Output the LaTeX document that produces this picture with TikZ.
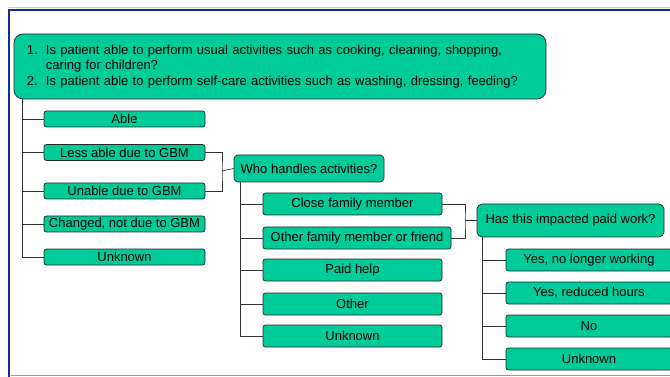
\documentclass[tikz,border=0pt]{standalone}
\usepackage{fontspec}
\setmainfont{Liberation Sans}
\definecolor{boxgreen}{HTML}{00CC99}
\definecolor{framenavy}{HTML}{0F2F8C}
\definecolor{framelight}{HTML}{7E98D0}
\begin{document}
\begin{tikzpicture}[x=1pt,y=-1pt,
  every node/.style={font=\fontsize{13}{15.5}\selectfont, text=black},
  optbox/.style={draw=black!85, fill=boxgreen, line width=0.7pt, rounded corners=2.5pt,
    inner sep=0pt, minimum height=#1, anchor=center},
  optbox/.default=22pt,
  conn/.style={draw=black!80, line width=0.7pt}]
\useasboundingbox (0,0) rectangle (670,377);
% frame
\draw[framelight!50, line width=1pt] (8,8) -- (670,8);
\draw[framenavy, line width=2.5pt] (9,377) -- (9,10) -- (670,10);
\draw[framelight, line width=1.2pt] (10.5,375.5) -- (670,375.5);
% question box
\node[draw=black!85, fill=boxgreen, line width=0.7pt, rounded corners=9pt,
  minimum width=532pt, minimum height=65pt, text width=506pt, inner xsep=13pt,
  inner ysep=0pt, align=left] (q) at (280,66.5)
  {\begin{tabular}{@{}p{19pt}@{}l@{}}
   1. & Is patient able to perform usual activities such as cooking, cleaning, shopping,\\
      & caring for children?\\
   2. & Is patient able to perform self-care activities such as washing, dressing, feeding?
   \end{tabular}};
% level 1
\foreach \n/\y/\t in {able/119/Able, less/152.5/Less able due to GBM, unable/191/Unable due to GBM,
  changed/224/{Changed, not due to GBM}, unka/257/Unknown}
  \node[optbox=16pt, minimum width=161pt] (\n) at (124.5,\y) {\t};
% who
\node[optbox=27pt, minimum width=150pt, rounded corners=4pt] (who) at (309,168.5) {Who handles activities?};
% level 2
\node[optbox, minimum width=179pt] (close) at (352.5,204) {Close family member};
\node[optbox, minimum width=188pt] (otherf) at (357,238) {Other family member or friend};
\foreach \n/\y/\t in {paid/270/Paid help, other/304/Other, unkb/336/Unknown}
  \node[optbox, minimum width=179pt] (\n) at (352.5,\y) {\t};
% has
\node[optbox=33pt, minimum width=187pt, rounded corners=5pt] (has) at (570.5,220.5) {Has this impacted paid work?};
% level 3
\foreach \n/\y/\t in {yesa/260/{Yes, no longer working}, yesb/293/{Yes, reduced hours}, no/326/No, unkc/359/Unknown}
  \node[optbox, minimum width=166pt] (\n) at (589,\y) {\t};
% connectors
\coordinate (ta) at (22,99);
\foreach \n in {able,less,unable,changed,unka} \draw[conn] (ta) |- (\n.west);
\coordinate (ba) at (222,171);
\draw[conn] (less.east) -| (ba) |- (unable.east);
\draw[conn] (ba) -- (who.west);
\coordinate (tb) at (240,182);
\foreach \n in {close,otherf,paid,other,unkb} \draw[conn] (tb) |- (\n.west);
\coordinate (bb) at (465,220.5);
\draw[conn] (close.east) -| (bb) |- (otherf.east);
\draw[conn] (bb) -- (has.west);
\coordinate (tc) at (482,237);
\foreach \n in {yesa,yesb,no,unkc} \draw[conn] (tc) |- (\n.west);
\end{tikzpicture}
\end{document}
